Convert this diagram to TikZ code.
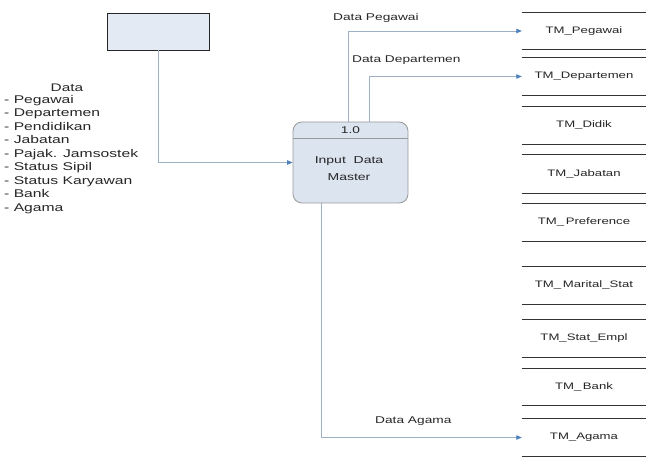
\documentclass[tikz,border=0pt]{standalone}
\usepackage{fontspec}
\setmainfont{Liberation Sans}[FakeStretch=1.4]
\usetikzlibrary{arrows.meta,calc}
\definecolor{flow}{HTML}{9DB0C6}
\definecolor{tip}{HTML}{4F81BD}
\definecolor{procfill}{HTML}{DCE4F0}
\definecolor{entfill}{HTML}{E4EAF3}
\definecolor{txt}{HTML}{262626}
\definecolor{storeline}{HTML}{333333}
\tikzset{
  flowline/.style={draw=flow,line width=0.8pt,-{Triangle[length=5.5pt,width=4.5pt,fill=tip,color=tip]}},
  storebox/.style={minimum width=124pt,minimum height=36pt,inner sep=0pt,text=txt,font=\fontsize{9.4}{11}\selectfont},
  storeedge/.style={draw=storeline,line width=1pt},
  lbl/.style={text=txt,inner sep=0pt,font=\fontsize{9.8}{12}\selectfont},
}
\begin{document}
\begin{tikzpicture}[x=1pt,y=-1pt]
\useasboundingbox (0,0) rectangle (646,457);
% external entity
\node[draw=black!85,fill=entfill,line width=0.8pt,minimum width=102pt,minimum height=37pt,inner sep=0pt] (ent) at (158,31.5) {};
% process
\node[draw=gray!80,fill=procfill,line width=0.8pt,rounded corners=9pt,minimum width=115pt,minimum height=81pt,inner sep=0pt] (proc) at (350.5,162.5) {};
\coordinate (hl) at (293,138);
\coordinate (hr) at (408,138);
\draw[gray!80,line width=0.8pt] (hl) -- (hr);
\node[lbl] (pid) at (350.5,130) {1.0};
\node[lbl,align=center,font=\fontsize{10}{17}\selectfont] (pname) at (349,168.5) {Input\ \ Data\\Master};
% data stores
\foreach \nm/\txt/\yt/\yb in {
  peg/TM\_Pegawai/13/49,
  dep/TM\_Departemen/58/95,
  did/TM\_Didik/107/144,
  jab/TM\_Jabatan/155/193,
  pre/TM\_\,Preference/204/241,
  mar/TM\_\,Marital\_Stat/267/304,
  sta/TM\_Stat\_Empl/320/357,
  ban/TM\_\,Bank/369/405,
  aga/TM\_Agama/419/456}{
  \node[storebox,minimum height={\yb-\yt}] (\nm) at (584,{(\yt+\yb)/2}) {\txt};
  \draw[storeedge] (\nm.north west) -- (\nm.north east);
  \draw[storeedge] (\nm.south west) -- (\nm.south east);
}
% flows
\draw[flowline] (ent.south) |- (proc.west);
\coordinate (p1) at ($(proc.north)+(-2.5,0)$);
\coordinate (p2) at ($(proc.north)+(18.5,0)$);
\coordinate (p3) at ($(proc.south)+(-29.5,0)$);
\draw[flowline] (p1) |- (peg.west);
\draw[flowline] (p2) |- (dep.west);
\draw[flowline] (p3) |- (aga.west);
% labels
\node[lbl,anchor=west] (l1) at (333,18) {Data Pegawai};
\node[lbl,anchor=west] (l2) at (352,60) {Data Departemen};
\node[lbl,anchor=west] (l3) at (375,421) {Data Agama};
\node[lbl,font=\fontsize{11}{13}\selectfont] (ldata) at (67,88) {Data};
\node[lbl,anchor=north west,align=left,font=\fontsize{11.2}{13.5}\selectfont] (llist) at (4,95) {- Pegawai\\- Departemen\\- Pendidikan\\- Jabatan\\- Pajak. Jamsostek\\- Status Sipil\\- Status Karyawan\\- Bank\\- Agama};
\end{tikzpicture}
\end{document}
